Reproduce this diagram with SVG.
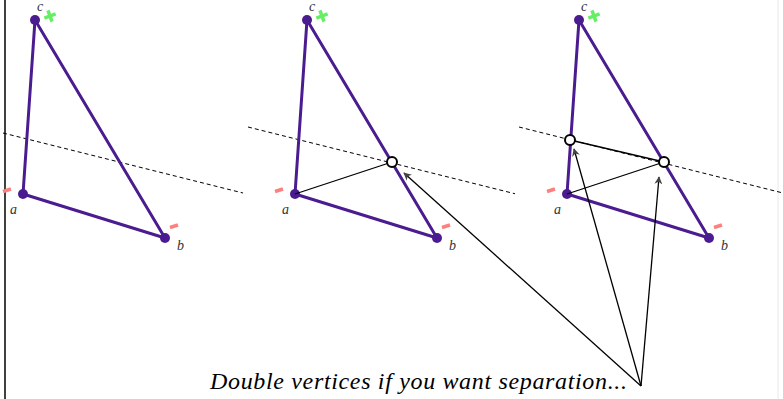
<svg xmlns="http://www.w3.org/2000/svg" width="783" height="399" viewBox="0 0 783 399">
<style>
.edge{stroke:#4b1c8f;stroke-width:3;fill:none;stroke-linecap:round}
.v{fill:#4b1c8f}
.cut{stroke:#000;stroke-width:1;stroke-dasharray:4,3;fill:none}
.thin{stroke:#000;stroke-width:1.3;fill:none}
.hollow{fill:#fff;stroke:#000;stroke-width:2}
.lbl{font-family:"Liberation Serif","Times New Roman",serif;font-style:italic;font-size:14px;fill:#333}
.minus{stroke:#ff7f7f;stroke-width:3.5}
.plus{stroke:#66ee66;stroke-width:3.5}
.arr{stroke:#000;stroke-width:1.3;fill:none;marker-end:url(#ah)}
.cap{font-family:"Liberation Serif","Times New Roman",serif;font-style:italic;font-size:24px;fill:#000}
</style>
<defs>
<marker id="ah" viewBox="0 0 10 10" refX="9" refY="5" markerWidth="8" markerHeight="8" markerUnits="userSpaceOnUse" orient="auto">
<path d="M0,0 L10,5 L0,10 L3,5 Z" fill="#444"/>
</marker>
<g id="tri">
<line class="edge" x1="23" y1="194" x2="35" y2="20"/>
<line class="edge" x1="35" y1="20" x2="165" y2="238"/>
<line class="edge" x1="23" y1="194" x2="165" y2="238"/>
<circle class="v" cx="23" cy="194" r="5"/>
<circle class="v" cx="35" cy="20" r="5"/>
<circle class="v" cx="165" cy="238" r="5"/>
<text class="lbl" x="10" y="214">a</text>
<text class="lbl" x="177" y="250">b</text>
<text class="lbl" x="37" y="11">c</text>
<line class="minus" x1="3" y1="191.5" x2="11" y2="189"/>
<line class="minus" x1="170" y1="227.5" x2="178" y2="225"/>
<g transform="translate(50,16) rotate(-20)"><line class="plus" x1="-6" y1="0" x2="6" y2="0"/><line class="plus" x1="0" y1="-6" x2="0" y2="6"/></g>
</g>
</defs>
<line x1="5" y1="0" x2="5" y2="399" stroke="#000" stroke-width="1.5"/>
<line x1="778" y1="0" x2="778" y2="399" stroke="#e8e8e8" stroke-width="1"/>
<g id="panel1">
<line class="cut" x1="3" y1="133" x2="243" y2="193"/>
<use href="#tri"/>
</g>
<g id="panel2">
<line class="cut" x1="248" y1="127" x2="515" y2="193.75"/>
<use href="#tri" transform="translate(272,0)"/>
<line class="thin" x1="295" y1="194" x2="392" y2="162"/>
<circle class="hollow" cx="392" cy="162" r="5"/>
</g>
<g id="panel3">
<line class="cut" x1="519" y1="127" x2="783" y2="193"/>
<use href="#tri" transform="translate(544,0)"/>
<line class="thin" x1="567" y1="194" x2="664" y2="162"/>
<line class="thin" x1="570" y1="140" x2="664" y2="162"/>
<circle class="hollow" cx="570" cy="140" r="5"/>
<circle class="hollow" cx="664" cy="162" r="5"/>
</g>
<g id="connectors">
<line class="arr" x1="641" y1="386" x2="404" y2="173"/>
<line class="arr" x1="641" y1="386" x2="574" y2="149"/>
<line class="arr" x1="641" y1="386" x2="659" y2="177"/>
</g>
<g id="caption">
<text class="cap" x="210" y="389" textLength="417" lengthAdjust="spacing">Double vertices if you want separation...</text>
</g>
</svg>
